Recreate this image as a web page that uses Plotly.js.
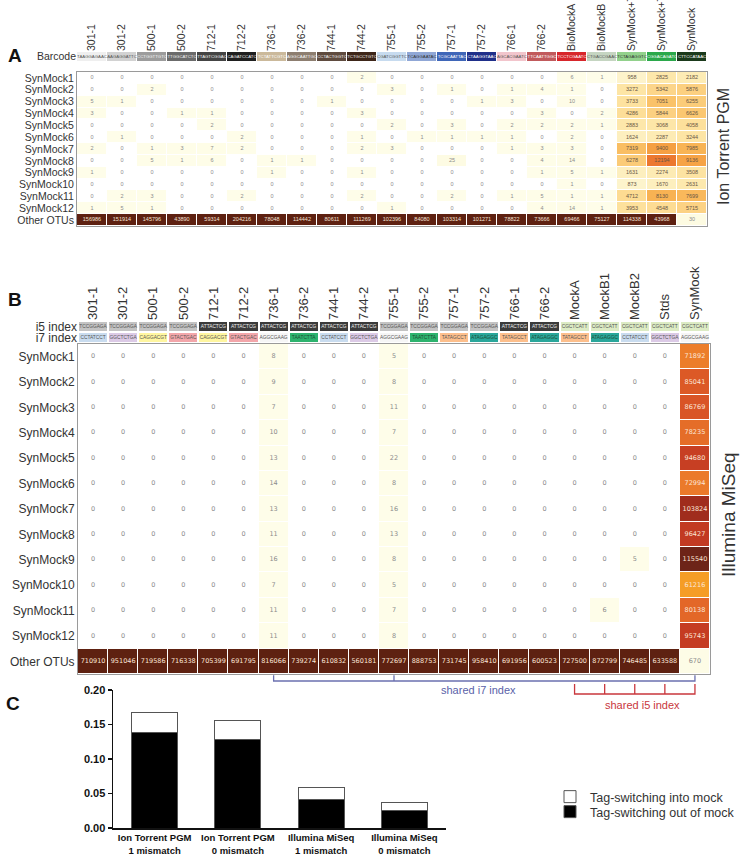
<!DOCTYPE html>
<html><head><meta charset="utf-8">
<script src="https://cdn.plot.ly/plotly-3.0.1.min.js"></script>
<style>html,body{margin:0;padding:0;background:#fff}#chart{width:742px;height:860px}</style>
</head><body><div id="chart"></div>
<script>
// ---------------- Panel A data (Ion Torrent PGM) ----------------
const ionColumns=['301-1','301-2','500-1','500-2','712-1','712-2','736-1','736-2','744-1','744-2','755-1','755-2','757-1','757-2','766-1','766-2','BioMockA','BioMockB','SynMock+736','SynMock+757','SynMock'];
const ionBarcodes=['TAAGGAGAAC','AAGAGGATTC','CCTGGTTGTC','TTGGCATCTC','TTAGTCGGAC','CAGATCCATC','TCTATTCGTC','AGGCAATTGC','CCTACTGGTC','TCTGCCTGTC','CGATCGGTTC','TCAGGAATAC','TCGCAATTAC','CTAAGGTAAC','AGCACGAATC','TTCAATTGGC','TCCTCGAATC','CTGACCGAAC','TCTAGAGGTC','CGGACAGATC','CTTCCATAAC'];
const ionRows=['SynMock1','SynMock2','SynMock3','SynMock4','SynMock5','SynMock6','SynMock7','SynMock8','SynMock9','SynMock10','SynMock11','SynMock12','Other OTUs'];
const ionSynMock1=[0,0,0,0,0,0,0,0,0,2,0,0,0,0,0,0,6,1,958,2825,2182];
const ionSynMock2=[0,0,2,0,0,0,0,0,0,0,3,0,1,0,1,4,1,0,3272,5342,5876];
const ionSynMock3=[5,1,0,0,0,0,0,0,1,0,0,0,0,1,3,0,10,0,3733,7051,6255];
const ionSynMock4=[3,0,0,1,1,0,0,0,0,3,0,0,0,0,0,3,0,2,4286,5844,6626];
const ionSynMock5=[0,0,0,0,2,0,0,0,0,0,2,0,3,0,2,2,2,1,2883,3068,4058];
const ionSynMock6=[0,1,0,0,0,2,0,0,0,1,0,1,1,1,1,0,2,0,1624,2287,3244];
const ionSynMock7=[2,0,1,3,7,2,0,0,0,2,3,0,0,0,1,3,3,0,7319,9400,7985];
const ionSynMock8=[0,0,5,1,6,0,1,1,0,0,0,0,25,0,0,4,14,0,6278,12194,9136];
const ionSynMock9=[1,0,0,0,0,0,1,0,0,1,0,0,0,0,0,1,5,1,1631,2274,3508];
const ionSynMock10=[0,0,0,0,0,0,0,0,0,0,0,0,0,0,0,0,1,0,873,1670,2631];
const ionSynMock11=[0,2,3,0,0,2,0,0,0,2,0,0,2,0,1,5,1,1,4712,8130,7699];
const ionSynMock12=[1,5,1,0,0,0,0,0,0,0,1,0,0,0,0,4,14,1,3953,4548,5715];
const ionOther=[156986,151914,145796,43890,59314,204216,78048,114442,80611,111269,102396,84080,103314,101271,78822,73666,69466,75127,114338,43968,30];

// ---------------- Panel B data (Illumina MiSeq) ----------------
const miColumns=['301-1','301-2','500-1','500-2','712-1','712-2','736-1','736-2','744-1','744-2','755-1','755-2','757-1','757-2','766-1','766-2','MockA','MockB1','MockB2','Stds','SynMock'];
const miI5=['TCCGGAGA','TCCGGAGA','TCCGGAGA','TCCGGAGA','ATTACTCG','ATTACTCG','ATTACTCG','ATTACTCG','ATTACTCG','ATTACTCG','TCCGGAGA','TCCGGAGA','TCCGGAGA','TCCGGAGA','ATTACTCG','ATTACTCG','CGCTCATT','CGCTCATT','CGCTCATT','CGCTCATT','CGCTCATT'];
const miI7=['CCTATCCT','GGCTCTGA','CAGGACGT','GTACTGAC','CAGGACGT','GTACTGAC','AGGCGAAG','TAATCTTA','CCTATCCT','GGCTCTGA','AGGCGAAG','TAATCTTA','TATAGCCT','ATAGAGGC','TATAGCCT','ATAGAGGC','TATAGCCT','ATAGAGGC','CCTATCCT','GGCTCTGA','AGGCGAAG'];
const miIndexRows=['i5 index','i7 index'];
const miRows=['SynMock1','SynMock2','SynMock3','SynMock4','SynMock5','SynMock6','SynMock7','SynMock8','SynMock9','SynMock10','SynMock11','SynMock12','Other OTUs'];
const miSynMock1=[0,0,0,0,0,0,8,0,0,0,5,0,0,0,0,0,0,0,0,0,71892];
const miSynMock2=[0,0,0,0,0,0,9,0,0,0,8,0,0,0,0,0,0,0,0,0,85041];
const miSynMock3=[0,0,0,0,0,0,7,0,0,0,11,0,0,0,0,0,0,0,0,0,86769];
const miSynMock4=[0,0,0,0,0,0,10,0,0,0,7,0,0,0,0,0,0,0,0,0,78235];
const miSynMock5=[0,0,0,0,0,0,13,0,0,0,22,0,0,0,0,0,0,0,0,0,94680];
const miSynMock6=[0,0,0,0,0,0,14,0,0,0,8,0,0,0,0,0,0,0,0,0,72994];
const miSynMock7=[0,0,0,0,0,0,13,0,0,0,16,0,0,0,0,0,0,0,0,0,103824];
const miSynMock8=[0,0,0,0,0,0,11,0,0,0,13,0,0,0,0,0,0,0,0,0,96427];
const miSynMock9=[0,0,0,0,0,0,16,0,0,0,8,0,0,0,0,0,0,0,5,0,115540];
const miSynMock10=[0,0,0,0,0,0,7,0,0,0,5,0,0,0,0,0,0,0,0,0,61216];
const miSynMock11=[0,0,0,0,0,0,11,0,0,0,7,0,0,0,0,0,0,6,0,0,80138];
const miSynMock12=[0,0,0,0,0,0,11,0,0,0,8,0,0,0,0,0,0,0,0,0,95743];
const miOther=[710910,951046,719586,716338,705399,691795,816066,739274,610832,560181,772697,888753,731745,958410,691956,600523,727500,872799,746485,633588,670];
const sharedI7Columns=['736-1','755-1','SynMock'];
const sharedI5Columns=['MockA','MockB1','MockB2','Stds','SynMock'];

// ---------------- Panel C data ----------------
const platforms=['Ion Torrent PGM<br>1 mismatch','Ion Torrent PGM<br>0 mismatch','Illumina MiSeq<br>1 mismatch','Illumina MiSeq<br>0 mismatch'];
const tagOutOfMock=[0.138,0.128,0.042,0.025];
const tagIntoMock=[0.029,0.028,0.016,0.012];

// ---------------- styles ----------------
const W=742,H=860;
const px=x=>x/W, py=y=>1-y/H;
const FONT='Liberation Sans, Arial, sans-serif';
const NARROW='Liberation Sans Narrow, Arial Narrow, Liberation Sans, sans-serif';
const ionBarcodeColors=['#efefef','#d2d2d2','#9c9c9c','#6b6b6b','#444444','#1f1f1f','#cbb99b','#8d7e70','#5f4b3f','#3e2619','#c7dbef','#90a7d6','#3f66b8','#1f2f8a','#f2c5cc','#c15a5c','#d7262b','#c5d5c1','#92d18c','#2ba84b','#1b3a1c'];
const ionBarcodeText=['#555','#555','#f4f4f4','#f4f4f4','#f4f4f4','#f4f4f4','#fff','#f4f4f4','#f4f4f4','#f4f4f4','#555','#333','#fff','#fff','#555','#fff','#fff','#555','#333','#fff','#fff'];
const i5Colors={TCCGGAGA:'#c3c3c3',ATTACTCG:'#3b3b3b',CGCTCATT:'#dcebc4'};
const i7Colors={CCTATCCT:'#c9dcef',GGCTCTGA:'#dccae6',CAGGACGT:'#fff6a0',GTACTGAC:'#f3a6aa',AGGCGAAG:'#f6f6f6',TAATCTTA:'#2db36e',TATAGCCT:'#fdbf8c',ATAGAGGC:'#2aa79b'};
const darkIdx=new Set(['ATTACTCG']);

const scaleA=[[0,'#ffffff'],[0.00005,'#fefde9'],[0.002,'#fdfbe2'],[0.06,'#fdf4cd'],[0.12,'#fdefbe'],[0.2,'#fde8ab'],[0.3,'#fddf99'],[0.4,'#fcd386'],[0.5,'#fac36a'],[0.57,'#f8b455'],[0.67,'#f5a043'],[0.87,'#ee7a30'],[0.9,'#b84a22'],[1,'#5e2111']];
const scaleB=[[0,'#ffffff'],[0.00003,'#fefde9'],[0.01,'#fdfbe3'],[0.45,'#f8b040'],[0.51,'#f59d26'],[0.6,'#ec7d2a'],[0.66,'#e46a28'],[0.72,'#da5526'],[0.8,'#c43b22'],[0.87,'#9d2c1d'],[0.96,'#6e2418'],[1,'#5e2111']];

const ionZ=[ionSynMock1,ionSynMock2,ionSynMock3,ionSynMock4,ionSynMock5,ionSynMock6,ionSynMock7,ionSynMock8,ionSynMock9,ionSynMock10,ionSynMock11,ionSynMock12,ionOther];
const miZ=[miSynMock1,miSynMock2,miSynMock3,miSynMock4,miSynMock5,miSynMock6,miSynMock7,miSynMock8,miSynMock9,miSynMock10,miSynMock11,miSynMock12,miOther];

function cellText(cols,rows,z,colorFn){
  const x=[],y=[],t=[],c=[];
  rows.forEach((r,i)=>cols.forEach((col,j)=>{x.push(col);y.push(r);t.push(String(z[i][j]));c.push(colorFn(z[i][j]));}));
  return {x,y,t,c};
}
const tA=cellText(ionColumns,ionRows,ionZ,v=>v>=40000?'#f3e2d6':(v>=500?'#6a5744':'#8c8c8c'));
const tB=cellText(miColumns,miRows,miZ,v=>v>=50000?'#fbe5d6':'#8c8c8c');

// geometry (px)
const A={l:77,r:707,top:72,bot:226,bcTop:52,bcBot:61};
const B={l:78,r:710,top:344,bot:674,i5Top:321,i7Bot:343};
const C={l:113,r:446,top:690,bot:828};

const traces=[];
traces.push({type:'heatmap',x:ionColumns,y:ionRows,z:ionZ,xaxis:'x',yaxis:'y',colorscale:scaleA,zmin:0,zmax:14000,showscale:false,xgap:1,ygap:1,hoverinfo:'skip'});
traces.push({type:'scatter',mode:'text',x:tA.x,y:tA.y,text:tA.t,textfont:{family:FONT,size:5.5,color:tA.c},xaxis:'x',yaxis:'y',showlegend:false,hoverinfo:'skip',cliponaxis:false});
traces.push({type:'heatmap',x:ionColumns,y:['Barcode'],z:[ionColumns.map((_,i)=>i)],xaxis:'x3',yaxis:'y3',colorscale:ionBarcodeColors.map((c,i)=>[i/(ionBarcodeColors.length-1),c]),zmin:0,zmax:ionBarcodeColors.length-1,showscale:false,xgap:1,hoverinfo:'skip'});
traces.push({type:'scatter',mode:'text',x:ionColumns,y:ionColumns.map(()=> 'Barcode'),text:ionBarcodes,textfont:{family:NARROW,size:4.3,color:ionBarcodeText},xaxis:'x3',yaxis:'y3',showlegend:false,hoverinfo:'skip',cliponaxis:false});

traces.push({type:'heatmap',x:miColumns,y:miRows,z:miZ,xaxis:'x2',yaxis:'y2',colorscale:scaleB,zmin:0,zmax:120000,showscale:false,xgap:1,ygap:1,hoverinfo:'skip'});
traces.push({type:'scatter',mode:'text',x:tB.x,y:tB.y,text:tB.t,textfont:{family:'DejaVu Sans, sans-serif',size:6.5,color:tB.c},xaxis:'x2',yaxis:'y2',showlegend:false,hoverinfo:'skip',cliponaxis:false});
const idxPalette=[...Object.values(i5Colors),...Object.values(i7Colors)];
const idxKeys=[...Object.keys(i5Colors).map(k=>'5'+k),...Object.keys(i7Colors).map(k=>'7'+k)];
const idxZ=[miI5.map(s=>idxKeys.indexOf('5'+s)),miI7.map(s=>idxKeys.indexOf('7'+s))];
traces.push({type:'heatmap',x:miColumns,y:miIndexRows,z:idxZ,xaxis:'x4',yaxis:'y4',colorscale:idxPalette.map((c,i)=>[i/(idxPalette.length-1),c]),zmin:0,zmax:idxPalette.length-1,showscale:false,xgap:2,ygap:2,hoverinfo:'skip'});
traces.push({type:'scatter',mode:'text',x:[...miColumns,...miColumns],y:[...miColumns.map(()=> 'i5 index'),...miColumns.map(()=> 'i7 index')],text:[...miI5,...miI7],
  textfont:{family:NARROW,size:4.8,color:[...miI5.map(s=>darkIdx.has(s)?'#f2f2f2':'#555'),...miI7.map(s=>(s==='TAATCTTA'||s==='ATAGAGGC')?'#1d4d33':'#555')]},xaxis:'x4',yaxis:'y4',showlegend:false,hoverinfo:'skip',cliponaxis:false});

// brackets (panel B)
const i7c='#6b70b0', i5c='#c9373d';
const lastCol=miColumns[miColumns.length-1];
const i7Line=0.73,i7Top=0.95,i5Line=0.23,i5Top=0.62;
traces.push({type:'scatter',mode:'lines',x:[sharedI7Columns[0],sharedI7Columns[0],lastCol,lastCol],y:[i7Top,i7Line,i7Line,i7Top],xaxis:'x2',yaxis:'y5',line:{color:i7c,width:1.3},showlegend:false,hoverinfo:'skip',cliponaxis:false});
sharedI7Columns.slice(1,-1).forEach(c=>traces.push({type:'scatter',mode:'lines',x:[c,c],y:[i7Line,i7Top],xaxis:'x2',yaxis:'y5',line:{color:i7c,width:1.3},showlegend:false,hoverinfo:'skip',cliponaxis:false}));
traces.push({type:'scatter',mode:'lines',x:[sharedI5Columns[0],sharedI5Columns[0],lastCol,lastCol],y:[i5Top,i5Line,i5Line,i5Top],xaxis:'x2',yaxis:'y5',line:{color:i5c,width:1.3},showlegend:false,hoverinfo:'skip',cliponaxis:false});
sharedI5Columns.slice(1,-1).forEach(c=>traces.push({type:'scatter',mode:'lines',x:[c,c],y:[i5Line,i5Top],xaxis:'x2',yaxis:'y5',line:{color:i5c,width:1.3},showlegend:false,hoverinfo:'skip',cliponaxis:false}));

// Panel C bars
traces.push({type:'bar',name:'Tag-switching out of mock',legend:'legend2',x:platforms,y:tagOutOfMock,xaxis:'x5',yaxis:'y6',marker:{color:'#000',line:{color:'#555',width:1}},hoverinfo:'skip'});
traces.push({type:'bar',name:'Tag-switching into mock',legend:'legend',x:platforms,y:tagIntoMock,xaxis:'x5',yaxis:'y6',marker:{color:'#fff',line:{color:'#555',width:1}},hoverinfo:'skip'});

const catAxis=(extra)=>Object.assign({type:'category',showgrid:false,zeroline:false,ticks:'',fixedrange:true,automargin:false},extra);
const legendBase={xanchor:'left',yanchor:'middle',font:{family:FONT,size:12.5,color:'#333'},bgcolor:'rgba(0,0,0,0)',borderwidth:0,itemwidth:30};
const ann=(text,x,y,font,extra)=>Object.assign({text,x:px(x),y:py(y),xref:'paper',yref:'paper',xanchor:'center',yanchor:'middle',showarrow:false,font},extra||{});
const layout={
  width:W,height:H,margin:{l:0,r:0,t:0,b:0},paper_bgcolor:'#fff',plot_bgcolor:'#fff',
  font:{family:FONT,color:'#333'},hovermode:false,barmode:'stack',bargap:0.45,
  xaxis:catAxis({domain:[px(A.l),px(A.r)],anchor:'y',range:[-0.5,20.5],showticklabels:false,showline:true,mirror:true,linecolor:'#9a9a9a',linewidth:1}),
  yaxis:catAxis({domain:[py(A.bot),py(A.top)],anchor:'x',range:[12.5,-0.5],tickmode:'array',tickvals:ionRows,ticktext:ionRows,tickfont:{size:10.5,color:'#333'},showline:true,mirror:true,linecolor:'#9a9a9a',linewidth:1}),
  xaxis3:catAxis({domain:[px(A.l),px(A.r)],anchor:'y3',range:[-0.5,20.5],side:'top',tickangle:-90,tickmode:'array',tickvals:ionColumns,ticktext:ionColumns,tickfont:{size:10.5,color:'#333'}}),
  yaxis3:catAxis({domain:[py(A.bcBot),py(A.bcTop)],anchor:'x3',range:[-0.5,0.5],tickfont:{size:10.5,color:'#333'}}),
  xaxis2:catAxis({domain:[px(B.l),px(B.r)],anchor:'y2',range:[-0.5,20.5],showticklabels:false,showline:true,mirror:true,linecolor:'#9a9a9a',linewidth:1}),
  yaxis2:catAxis({domain:[py(B.bot),py(B.top)],anchor:'x2',range:[12.5,-0.5],tickmode:'array',tickvals:miRows,ticktext:miRows,tickfont:{size:12,color:'#333'},showline:true,mirror:true,linecolor:'#9a9a9a',linewidth:1}),
  xaxis4:catAxis({domain:[px(B.l),px(B.r)],anchor:'y4',range:[-0.5,20.5],side:'top',tickangle:-90,tickmode:'array',tickvals:miColumns,ticktext:miColumns,tickfont:{size:13,color:'#333'}}),
  yaxis4:catAxis({domain:[py(B.i7Bot),py(B.i5Top)],anchor:'x4',range:[1.5,-0.5],tickmode:'array',tickvals:miIndexRows,ticktext:miIndexRows,tickfont:{size:12,color:'#333'}}),
  yaxis5:{domain:[py(700),py(674)],anchor:'x2',range:[0,1],visible:false,fixedrange:true},
  xaxis5:catAxis({domain:[px(C.l),px(C.r)],anchor:'y6',tickangle:0,showline:true,linecolor:'#111',linewidth:2,tickfont:{family:NARROW,size:9.5,color:'#111',weight:'bold'}}),
  yaxis6:{domain:[py(C.bot),py(C.top)],anchor:'x5',range:[0,0.2],tickvals:[0,0.05,0.1,0.15,0.2],tickformat:'.2f',ticks:'outside',ticklen:4,tickwidth:1.5,tickcolor:'#111',showline:true,linecolor:'#111',linewidth:1.5,showgrid:false,zeroline:false,fixedrange:true,automargin:false,tickfont:{family:NARROW,size:11,color:'#111',weight:'bold'}},
  showlegend:true,
  legend:Object.assign({x:px(550),y:py(797)},legendBase),
  legend2:Object.assign({x:px(550),y:py(812)},legendBase),
  annotations:[
    ann('<b>A</b>',15,55,{family:FONT,size:19,color:'#111'}),
    ann('<b>B</b>',15,300,{family:FONT,size:19,color:'#111'}),
    ann('<b>C</b>',13,703,{family:FONT,size:19,color:'#111'}),
    ann('Ion Torrent PGM',723,147,{family:FONT,size:16,color:'#333'},{textangle:-90}),
    ann('Illumina MiSeq',728,515,{family:FONT,size:19,color:'#333'},{textangle:-90}),
    ann('shared i7 index',478,690,{family:NARROW,size:11,color:'#5a5fa8'}),
    ann('shared i5 index',642,705,{family:NARROW,size:11,color:i5c})
  ]
};
Plotly.newPlot('chart',traces,layout,{displayModeBar:false,staticPlot:true});
</script></body></html>
